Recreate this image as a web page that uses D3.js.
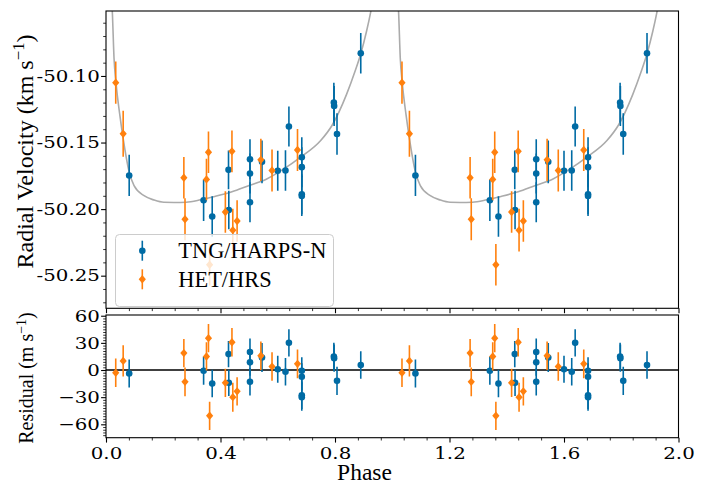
<!DOCTYPE html>
<html><head><meta charset="utf-8">
<script src="https://cdn.jsdelivr.net/npm/d3@7"></script>
<style>body{margin:0;background:#fff} svg{display:block}</style>
</head><body>
<svg id="c" width="703" height="484"></svg>
<script>
// ---- data (phase folded) ----
const tngPhase = [0.081,0.341,0.371,0.428,0.429,0.503,0.503,0.503,0.545,0.600,0.627,0.639,0.684,0.684,0.684,0.684,0.796,0.797,0.807,0.890];
const tngRV    = [-50.1747,-50.1934,-50.2056,-50.1705,-50.2007,-50.1625,-50.1732,-50.1949,-50.1645,-50.1712,-50.1710,-50.1379,-50.1610,-50.1685,-50.1889,-50.1902,-50.1200,-50.1225,-50.1436,-50.0830];
const tngErr   = [15.5,15.6,15.2,14.5,14.5,15.0,15.0,15.0,16.0,15.0,15.2,15.0,15.0,15.0,15.0,15.0,15.0,15.0,15.6,15.2]; // m/s
const tngRes   = [-3.8,-0.8,-15.0,17.6,-14.2,19.9,8.6,-13.1,13.9,0.8,-1.9,30.0,-0.8,-7.5,-28.0,-30.0,15.0,13.1,-12.0,5.6]; // m/s

const hetPhase = [0.034,0.060,0.272,0.276,0.351,0.358,0.362,0.417,0.440,0.443,0.458,0.541,0.580,0.669];
const hetRV    = [-50.1050,-50.1434,-50.1765,-50.2076,-50.1777,-50.1573,-50.2418,-50.2022,-50.1566,-50.2158,-50.2089,-50.1630,-50.1710,-50.1556];
const hetErr   = [15.8,17.3,15.6,15.8,15.6,15.6,15.6,15.6,15.7,16.0,15.6,15.8,15.8,15.8];
const hetRes   = [-3.0,10.1,18.7,-13.1,15.0,35.2,-50.6,-14.2,30.7,-30.0,-23.6,15.7,3.8,6.8];

const modelPhase = [0.000,0.012,0.022,0.028,0.035,0.048,0.060,0.080,0.098,0.133,0.168,0.202,0.237,0.280,0.330,0.380,0.440,0.500,0.560,0.620,0.680,0.750,0.790,0.840,0.870,0.890,0.910,0.925,0.950,0.975];
const modelRV    = [-50.010,-50.030,-50.0514,-50.0865,-50.1052,-50.1289,-50.1470,-50.1712,-50.1824,-50.1899,-50.1932,-50.1949,-50.1950,-50.1948,-50.1930,-50.1905,-50.1870,-50.1822,-50.1775,-50.1700,-50.1610,-50.1485,-50.1370,-50.1140,-50.0965,-50.0833,-50.0666,-50.0516,-50.020,-49.990];

const xTicks   = [0.0,0.4,0.8,1.2,1.6,2.0];
const rvTicks  = [-50.25,-50.20,-50.15,-50.10];
const resTicks = [-60,-30,0,30,60];
const seriesNames = ["TNG/HARPS-N","HET/HRS"];

// ---- layout ----
const BLUE = "#006BA4", ORANGE = "#FF800E", GRAY = "#ABABAB";
const L = 106, R = 678.5, mTop = 11, mBot = 308.3, rTop = 315, rBot = 437.7;
const svg = d3.select("#c");

const x  = d3.scaleLinear().domain([0,2]).range([L,R]);
const y  = d3.scaleLinear().domain([-50.2745,-50.0512]).range([mBot,mTop]);
const yr = d3.scaleLinear().domain([-74.8,60.8]).range([rBot,rTop]);

const defs = svg.append("defs");
defs.append("clipPath").attr("id","cm").append("rect").attr("x",L).attr("y",mTop).attr("width",R-L).attr("height",mBot-mTop);
defs.append("clipPath").attr("id","cr").append("rect").attr("x",L).attr("y",rTop).attr("width",R-L).attr("height",rBot-rTop);

// minor tick positions
const xMinor = d3.range(0,26).filter(i=>i%5!==0).map(i=>i*0.08);
const rvMinor = d3.range(-5027,-5005).filter(k=>k%5!==0).map(k=>k/100);
const resMinor = d3.range(-24,21).filter(k=>k%10!==0).map(k=>k*3);

const TF = "DejaVu Serif", LF = "Liberation Serif";
const SX = 1.2;
function styleTicks(g){
  g.select(".domain").remove();
  g.selectAll("line").attr("stroke","#000");
  g.selectAll("text").attr("font-family",TF).attr("font-size",16.5).attr("fill","#000")
   .each(function(){ const t=d3.select(this); const xv=+(t.attr("x")||0); t.attr("x",xv/SX).attr("transform",`scale(${SX},1)`); });
}

// ---- axes ----
svg.append("g").attr("transform",`translate(0,${mBot})`)
  .call(d3.axisBottom(x).tickValues(xMinor).tickSize(2.8).tickFormat("")).call(styleTicks)
  .selectAll("line").attr("stroke-width",0.8);
svg.append("g").attr("transform",`translate(0,${mBot})`)
  .call(d3.axisBottom(x).tickValues(xTicks).tickSize(4.9).tickFormat("")).call(styleTicks)
  .selectAll("line").attr("stroke-width",1.1);
svg.append("g").attr("transform",`translate(0,${rBot})`)
  .call(d3.axisBottom(x).tickValues(xMinor).tickSize(2.8).tickFormat("")).call(styleTicks)
  .selectAll("line").attr("stroke-width",0.8);
svg.append("g").attr("transform",`translate(0,${rBot})`)
  .call(d3.axisBottom(x).tickValues(xTicks).tickSize(4.9).tickPadding(4.5).tickFormat(d=>d.toFixed(1))).call(styleTicks)
  .selectAll("line").attr("stroke-width",1.1);

svg.append("g").attr("transform",`translate(${L},0)`)
  .call(d3.axisLeft(y).tickValues(rvMinor).tickSize(2.8).tickFormat("")).call(styleTicks)
  .selectAll("line").attr("stroke-width",0.8);
svg.append("g").attr("transform",`translate(${L},0)`)
  .call(d3.axisLeft(y).tickValues(rvTicks).tickSize(4.9).tickPadding(1.2).tickFormat(d=>d.toFixed(2))).call(styleTicks)
  .selectAll("line").attr("stroke-width",1.1);
svg.append("g").attr("transform",`translate(${L},0)`)
  .call(d3.axisLeft(yr).tickValues(resMinor).tickSize(2.8).tickFormat("")).call(styleTicks)
  .selectAll("line").attr("stroke-width",0.8);
svg.append("g").attr("transform",`translate(${L},0)`)
  .call(d3.axisLeft(yr).tickValues(resTicks).tickSize(4.9).tickPadding(1.2).tickFormat(d3.format("d"))).call(styleTicks)
  .selectAll("line").attr("stroke-width",1.1);

// ---- model curve ----
const modelPts = [];
[0,1].forEach(k=>modelPhase.forEach((p,i)=>modelPts.push([p+k, modelRV[i]])));
modelPts.push([2.0, modelRV[0]]);
const mainG = svg.append("g").attr("clip-path","url(#cm)");
mainG.append("path").datum(modelPts)
  .attr("d", d3.line().x(d=>x(d[0])).y(d=>y(d[1])).curve(d3.curveMonotoneX))
  .attr("fill","none").attr("stroke",GRAY).attr("stroke-width",1.6);

// residual zero line
const resG = svg.append("g").attr("clip-path","url(#cr)");
resG.append("line").attr("x1",L).attr("x2",R).attr("y1",yr(0)).attr("y2",yr(0)).attr("stroke","#000").attr("stroke-width",1.6);

// ---- data points ----
function buildSeries(ph, rv, err, res){
  const out=[];
  [0,1].forEach(k=>ph.forEach((p,i)=>out.push({p:p+k, rv:rv[i], e:err[i], r:res[i]})));
  return out;
}
const tng = buildSeries(tngPhase,tngRV,tngErr,tngRes);
const het = buildSeries(hetPhase,hetRV,hetErr,hetRes);

const diamond = (cx,cy)=>`M${cx},${cy-4.2}L${cx+3.6},${cy}L${cx},${cy+4.2}L${cx-3.6},${cy}Z`;

function drawSeries(data,color,shape){
  mainG.append("g").selectAll("line").data(data).join("line")
    .attr("x1",d=>x(d.p)).attr("x2",d=>x(d.p))
    .attr("y1",d=>y(d.rv - d.e/1000)).attr("y2",d=>y(d.rv + d.e/1000))
    .attr("stroke",color).attr("stroke-width",1.6);
  resG.append("g").selectAll("line").data(data).join("line")
    .attr("x1",d=>x(d.p)).attr("x2",d=>x(d.p))
    .attr("y1",d=>yr(d.r - d.e)).attr("y2",d=>yr(d.r + d.e))
    .attr("stroke",color).attr("stroke-width",1.6);
  if(shape==="circle"){
    mainG.append("g").selectAll("circle").data(data).join("circle")
      .attr("cx",d=>x(d.p)).attr("cy",d=>y(d.rv)).attr("r",3.3).attr("fill",color);
    resG.append("g").selectAll("circle").data(data).join("circle")
      .attr("cx",d=>x(d.p)).attr("cy",d=>yr(d.r)).attr("r",3.3).attr("fill",color);
  } else {
    mainG.append("g").selectAll("path").data(data).join("path")
      .attr("d",d=>diamond(x(d.p),y(d.rv))).attr("fill",color);
    resG.append("g").selectAll("path").data(data).join("path")
      .attr("d",d=>diamond(x(d.p),yr(d.r))).attr("fill",color);
  }
}
drawSeries(tng,BLUE,"circle");
drawSeries(het,ORANGE,"diamond");

// ---- frames ----
svg.append("rect").attr("x",L).attr("y",mTop).attr("width",R-L).attr("height",mBot-mTop)
  .attr("fill","none").attr("stroke","#000").attr("stroke-width",1.1);
svg.append("rect").attr("x",L).attr("y",rTop).attr("width",R-L).attr("height",rBot-rTop)
  .attr("fill","none").attr("stroke","#000").attr("stroke-width",1.1);

// ---- legend ----
const lg = svg.append("g");
lg.append("rect").attr("x",115.5).attr("y",234.5).attr("width",218).attr("height",72).attr("rx",4)
  .attr("fill","#fff").attr("fill-opacity",0.8).attr("stroke","#ccc").attr("stroke-width",1);
const legItems = [{name:seriesNames[0],color:BLUE,shape:"circle",cy:250.7},{name:seriesNames[1],color:ORANGE,shape:"diamond",cy:279.3}];
legItems.forEach(it=>{
  lg.append("line").attr("x1",142.3).attr("x2",142.3).attr("y1",it.cy-10).attr("y2",it.cy+10).attr("stroke",it.color).attr("stroke-width",1.6);
  if(it.shape==="circle") lg.append("circle").attr("cx",142.3).attr("cy",it.cy).attr("r",3.3).attr("fill",it.color);
  else lg.append("path").attr("d",diamond(142.3,it.cy)).attr("fill",it.color);
  lg.append("text").attr("x",178.3).attr("y",it.cy+7.2).attr("font-family",LF).attr("font-size",22.4).attr("fill","#000").text(it.name);
});

// ---- axis labels ----
svg.append("text").attr("x",364.5).attr("y",480).attr("text-anchor","middle")
  .attr("font-family",LF).attr("font-size",23.5).attr("fill","#000").text("Phase");

function yLabel(cx, cy, size, main){
  const t = svg.append("text").attr("transform",`translate(${cx},${cy}) rotate(-90)`)
    .attr("text-anchor","middle").attr("font-family",LF).attr("font-size",size).attr("fill","#000");
  t.append("tspan").text(main);
  t.append("tspan").attr("font-size",size*0.7).attr("dy",-size*0.38).text("\u22121");
  t.append("tspan").attr("dy",size*0.38).text(")");
}
yLabel(33.3,151.5,24,"Radial Velocity (km s");
yLabel(33.3,378,20,"Residual (m s");
</script>
</body></html>
